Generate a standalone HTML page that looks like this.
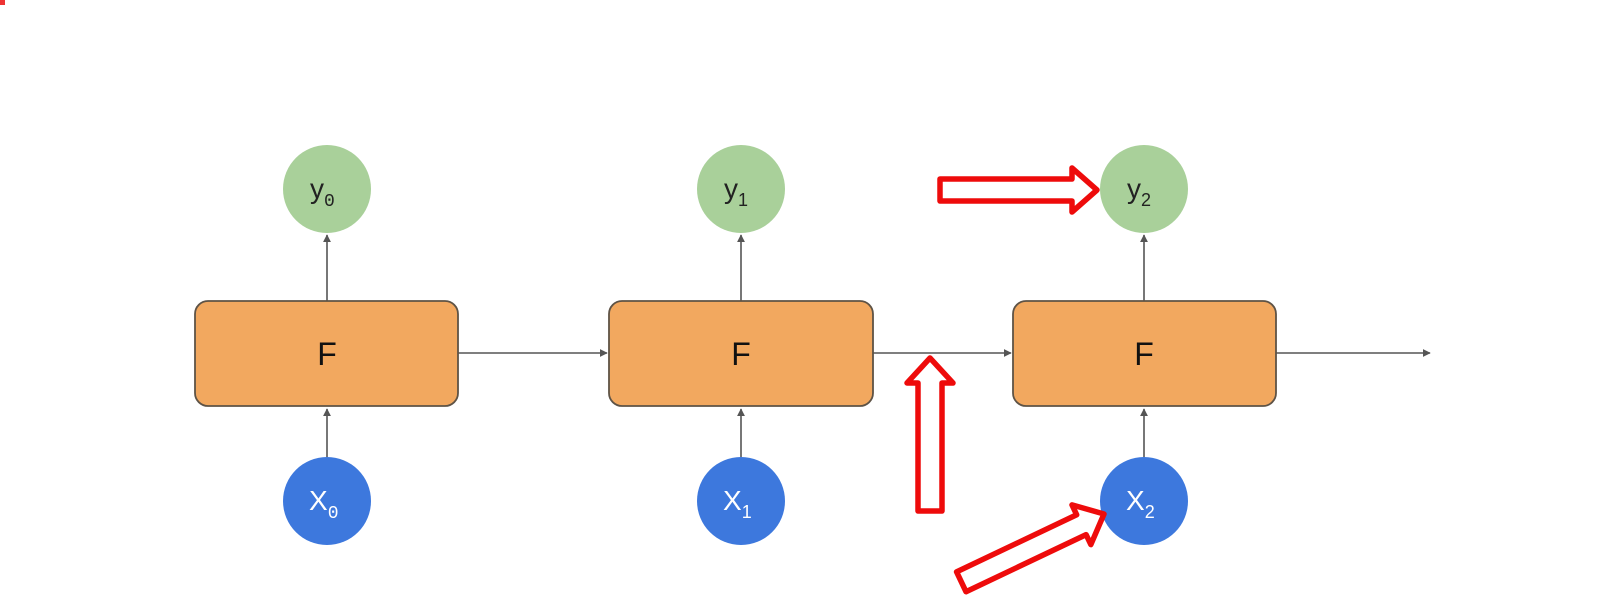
<!DOCTYPE html>
<html><head><meta charset="utf-8"><style>
html,body{margin:0;padding:0;background:#fff;}
svg{display:block;}
text{font-family:"Liberation Sans",sans-serif;}
</style></head><body>
<svg width="1611" height="613" viewBox="0 0 1611 613" xmlns="http://www.w3.org/2000/svg">
<defs>
<marker id="ah" viewBox="0 0 10 10" refX="9" refY="5" markerWidth="5" markerHeight="5" orient="auto">
<path d="M0,0 L10,5 L0,10 z" fill="#555"/>
</marker>
</defs>
<rect x="0" y="0" width="5" height="5" fill="#e33"/>
<!-- connectors -->
<g stroke="#555" stroke-width="1.6" fill="none" marker-end="url(#ah)">
<line x1="327" y1="301" x2="327" y2="235"/>
<line x1="327" y1="457" x2="327" y2="409"/>
<line x1="741" y1="301" x2="741" y2="235"/>
<line x1="741" y1="457" x2="741" y2="409"/>
<line x1="1144" y1="301" x2="1144" y2="235"/>
<line x1="1144" y1="457" x2="1144" y2="409"/>
<line x1="458" y1="353" x2="607" y2="353"/>
<line x1="873" y1="353" x2="1011" y2="353"/>
<line x1="1276" y1="353" x2="1430" y2="353"/>
</g>
<!-- boxes -->
<g fill="#f2a85f" stroke="#5e5346" stroke-width="1.8">
<rect x="195" y="301" width="263" height="105" rx="13"/>
<rect x="609" y="301" width="264" height="105" rx="13"/>
<rect x="1013" y="301" width="263" height="105" rx="13"/>
</g>
<g font-size="32" fill="#111" text-anchor="middle">
<text x="327" y="365">F</text>
<text x="741" y="365">F</text>
<text x="1144" y="365">F</text>
</g>
<!-- circles -->
<g fill="#a9d09a">
<circle cx="327" cy="189" r="44"/>
<circle cx="741" cy="189" r="44"/>
<circle cx="1144" cy="189" r="44"/>
</g>
<g fill="#3d78dd">
<circle cx="327" cy="501" r="44"/>
<circle cx="741" cy="501" r="44"/>
<circle cx="1144" cy="501" r="44"/>
</g>
<g font-size="28" fill="#222">
<text x="310" y="198">y<tspan font-family="Liberation Mono,monospace" font-size="18" dy="8">0</tspan></text>
<text x="724" y="198">y<tspan font-size="18" dy="8">1</tspan></text>
<text x="1127" y="198">y<tspan font-size="18" dy="8">2</tspan></text>
</g>
<g font-size="28" fill="#fff">
<text x="309" y="510">X<tspan font-family="Liberation Mono,monospace" font-size="18" dy="8">0</tspan></text>
<text x="723" y="510">X<tspan font-size="18" dy="8">1</tspan></text>
<text x="1126" y="510">X<tspan font-size="18" dy="8">2</tspan></text>
</g>
<!-- red arrows -->
<g fill="#fff" stroke="#ee0b0b" stroke-width="5.5" stroke-linejoin="round">
<polygon transform="translate(1097,190)" points="0,0 -25,-22 -25,-11 -157,-11 -157,11 -25,11 -25,22"/>
<polygon transform="translate(930,358) rotate(-90)" points="0,0 -25,-23 -25,-12 -153,-12 -153,12 -25,12 -25,23"/>
<polygon transform="translate(1104,514) rotate(-25.4)" points="0,0 -25,-22 -25,-11 -158,-11 -158,11 -25,11 -25,22"/>
</g>
</svg>
</body></html>
